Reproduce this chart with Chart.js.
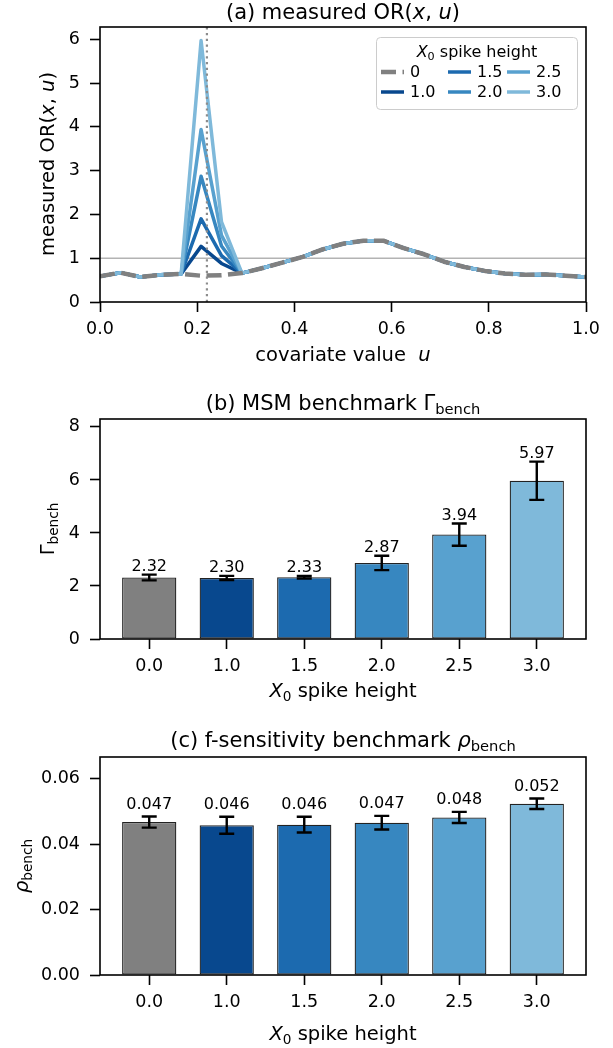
<!DOCTYPE html>
<html>
<head>
<meta charset="utf-8">
<script src="https://cdn.jsdelivr.net/npm/chart.js@4"></script>
<style>
html, body { margin: 0; padding: 0; background: #fff; }
#wrap { position: relative; width: 613px; height: 1048px; }
.panel { position: absolute; left: 0; width: 613px; }
</style>
</head>
<body>
<div id="wrap">
  <div class="panel" style="top:0;height:370px"><canvas id="pa"></canvas></div>
  <div class="panel" style="top:370px;height:345px"><canvas id="pb"></canvas></div>
  <div class="panel" style="top:715px;height:333px"><canvas id="pc"></canvas></div>
</div>
<script>
// panel (a): measured OR(x, u) on the covariate grid
const u = [0.000, 0.042, 0.083, 0.125, 0.167, 0.208, 0.250, 0.292, 0.333, 0.375, 0.417, 0.458, 0.500,
           0.542, 0.583, 0.625, 0.667, 0.708, 0.750, 0.792, 0.833, 0.875, 0.917, 0.958, 1.000];
const or00 = [0.59, 0.67, 0.57, 0.62, 0.64, 0.60, 0.61, 0.66, 0.77, 0.90, 1.03, 1.20, 1.33,
              1.40, 1.40, 1.23, 1.09, 0.92, 0.80, 0.71, 0.65, 0.62, 0.63, 0.60, 0.57];
const or10 = [0.59, 0.67, 0.57, 0.62, 0.64, 1.27, 0.88, 0.66, 0.77, 0.90, 1.03, 1.20, 1.33,
              1.40, 1.40, 1.23, 1.09, 0.92, 0.80, 0.71, 0.65, 0.62, 0.63, 0.60, 0.57];
const or15 = [0.59, 0.67, 0.57, 0.62, 0.64, 1.90, 1.06, 0.66, 0.77, 0.90, 1.03, 1.20, 1.33,
              1.40, 1.40, 1.23, 1.09, 0.92, 0.80, 0.71, 0.65, 0.62, 0.63, 0.60, 0.57];
const or20 = [0.59, 0.67, 0.57, 0.62, 0.64, 2.87, 1.28, 0.66, 0.77, 0.90, 1.03, 1.20, 1.33,
              1.40, 1.40, 1.23, 1.09, 0.92, 0.80, 0.71, 0.65, 0.62, 0.63, 0.60, 0.57];
const or25 = [0.59, 0.67, 0.57, 0.62, 0.64, 3.94, 1.52, 0.66, 0.77, 0.90, 1.03, 1.20, 1.33,
              1.40, 1.40, 1.23, 1.09, 0.92, 0.80, 0.71, 0.65, 0.62, 0.63, 0.60, 0.57];
const or30 = [0.59, 0.67, 0.57, 0.62, 0.64, 5.97, 1.83, 0.66, 0.77, 0.90, 1.03, 1.20, 1.33,
              1.40, 1.40, 1.23, 1.09, 0.92, 0.80, 0.71, 0.65, 0.62, 0.63, 0.60, 0.57];
const refLevel = 1;
const spikeU = 0.22;

// panels (b) and (c): benchmarks per spike height
const heights = ['0.0', '1.0', '1.5', '2.0', '2.5', '3.0'];
const legendLabels = ['0', '1.0', '1.5', '2.0', '2.5', '3.0'];
const gammaBench = [2.32, 2.30, 2.33, 2.87, 3.94, 5.97];
const gammaErr = [0.11, 0.08, 0.05, 0.27, 0.42, 0.72];
const rhoBench = [0.0468, 0.0458, 0.0460, 0.0466, 0.0482, 0.0524];
const rhoErr = [0.0017, 0.0026, 0.0024, 0.0021, 0.0017, 0.0016];

const colors = ['#808080', '#08488e', '#1c6aaf', '#3787c0', '#58a1cf', '#7fb9da'];

const FAM = '"DejaVu Sans", sans-serif';
Chart.defaults.font.family = FAM;
Chart.defaults.color = '#000';
const tickFont = { size: 17.5 };

function fontOf(p, size) {
    return (p.i ? 'italic ' : '') + (p.sub ? size * 0.7 : size) + 'px ' + FAM;
}

// text with italic / subscript parts, centred on (x, y)
function drawRich(ctx, parts, x, y, size, rot) {
    ctx.save();
    ctx.translate(x, y);
    if (rot) ctx.rotate(rot);
    let total = 0;
    parts.forEach(p => { ctx.font = fontOf(p, size); total += ctx.measureText(p.t).width; });
    let cx = -total / 2;
    ctx.textAlign = 'left';
    ctx.textBaseline = 'alphabetic';
    ctx.fillStyle = '#000';
    parts.forEach(p => {
        ctx.font = fontOf(p, size);
        ctx.fillText(p.t, cx, size * 0.36 + (p.sub ? size * 0.2 : 0));
        cx += ctx.measureText(p.t).width;
    });
    ctx.restore();
}

function labelsPlugin(items) {
    return {
        id: 'labels',
        afterDraw(chart) {
            const ctx = chart.ctx;
            const a = chart.chartArea;
            ctx.save();
            ctx.strokeStyle = '#000';
            ctx.lineWidth = 1.6;
            ctx.strokeRect(a.left, a.top, a.right - a.left, a.bottom - a.top);
            ctx.restore();
            items.forEach(it => drawRich(ctx, it.parts, it.x, it.y, it.size, it.rot));
        }
    };
}

function errPlugin(vals, errs, fmt, gap) {
    return {
        id: 'errbars',
        afterDatasetsDraw(chart) {
            const ctx = chart.ctx, xs = chart.scales.x, ys = chart.scales.y;
            ctx.save();
            ctx.strokeStyle = '#000';
            ctx.lineWidth = 2.4;
            vals.forEach((v, i) => {
                const x = xs.getPixelForValue(i);
                const hi = ys.getPixelForValue(v + errs[i]);
                const lo = ys.getPixelForValue(v - errs[i]);
                ctx.beginPath();
                ctx.moveTo(x, hi); ctx.lineTo(x, lo);
                ctx.moveTo(x - 7.5, hi); ctx.lineTo(x + 7.5, hi);
                ctx.moveTo(x - 7.5, lo); ctx.lineTo(x + 7.5, lo);
                ctx.stroke();
                ctx.font = '16px ' + FAM;
                ctx.textAlign = 'center';
                ctx.textBaseline = 'bottom';
                ctx.fillStyle = '#000';
                ctx.fillText(fmt(v), x, hi - gap);
            });
            ctx.restore();
        }
    };
}

const legendPlugin = {
    id: 'boxlegend',
    afterDraw(chart) {
        const ctx = chart.ctx;
        ctx.save();
        ctx.fillStyle = 'rgba(255,255,255,0.8)';
        ctx.strokeStyle = '#cccccc';
        ctx.lineWidth = 1;
        ctx.beginPath();
        ctx.roundRect(376.5, 37.5, 201, 72, 4);
        ctx.fill();
        ctx.stroke();
        ctx.restore();
        drawRich(ctx, [{ t: 'X', i: true }, { t: '0', sub: true }, { t: ' spike height' }], 477, 51, 16);
        const colX = [381, 448, 507];
        const rowY = [72, 92];
        legendLabels.forEach((lab, k) => {
            const col = Math.floor(k / 2), row = k % 2;
            const ds = chart.data.datasets[k];
            const x0 = colX[col], y0 = rowY[row];
            ctx.save();
            ctx.strokeStyle = ds.borderColor;
            ctx.lineWidth = ds.borderWidth;
            ctx.setLineDash(ds.borderDash || []);
            ctx.beginPath();
            ctx.moveTo(x0, y0); ctx.lineTo(x0 + 23, y0);
            ctx.stroke();
            ctx.restore();
            ctx.save();
            ctx.font = '16px ' + FAM;
            ctx.fillStyle = '#000';
            ctx.textBaseline = 'middle';
            ctx.fillText(lab, x0 + 29, y0 + 1);
            ctx.restore();
        });
    }
};

function gridOpts() {
    return { drawOnChartArea: false, tickLength: 10, tickWidth: 1.6, tickColor: '#000' };
}

const orSeries = [or00, or10, or15, or20, or25, or30];
const lineSets = orSeries.map((vals, k) => ({
    label: legendLabels[k],
    data: u.map((x, i) => ({ x: x, y: vals[i] })),
    borderColor: colors[k],
    borderWidth: k === 0 ? 4.5 : 3.5,
    borderDash: k === 0 ? [15, 6.5] : [],
    borderJoinStyle: 'round',
    order: k === 0 ? 0 : 6 - k,
    pointRadius: 0,
    tension: 0
}));
lineSets.push({
    label: 'ref', data: [{ x: 0, y: refLevel }, { x: 1, y: refLevel }],
    borderColor: '#b3b3b3', borderWidth: 1.5, pointRadius: 0, order: 10
});
lineSets.push({
    label: 'spike', data: [{ x: spikeU, y: 0 }, { x: spikeU, y: 6.28 }],
    borderColor: '#8c8c8c', borderWidth: 2.2, borderDash: [2.2, 3.6], pointRadius: 0, order: -1
});

new Chart(document.getElementById('pa'), {
    type: 'line',
    data: { datasets: lineSets },
    options: {
        responsive: true, maintainAspectRatio: false, animation: false,
        layout: { padding: { left: 0, right: 27, top: 27, bottom: 0 } },
        plugins: { legend: { display: false }, tooltip: { enabled: false } },
        scales: {
            x: {
                type: 'linear', min: 0, max: 1,
                afterFit: s => { s.height = 68; },
                ticks: { stepSize: 0.2, callback: v => v.toFixed(1), font: tickFont, color: '#000', padding: 7, maxRotation: 0, autoSkip: false },
                grid: gridOpts(), border: { display: false }
            },
            y: {
                min: 0, max: 6.28,
                afterFit: s => { s.width = 100; },
                ticks: { stepSize: 1, includeBounds: false, font: tickFont, color: '#000', padding: 10 },
                grid: gridOpts(), border: { display: false }
            }
        }
    },
    plugins: [labelsPlugin([
        { parts: [{ t: '(a) measured OR(' }, { t: 'x', i: true }, { t: ', ' }, { t: 'u', i: true }, { t: ')' }], x: 343, y: 11, size: 21 },
        { parts: [{ t: 'measured OR(' }, { t: 'x', i: true }, { t: ', ' }, { t: 'u', i: true }, { t: ')' }], x: 47, y: 164, size: 19.5, rot: -Math.PI / 2 },
        { parts: [{ t: 'covariate value  ' }, { t: 'u', i: true }], x: 343, y: 354, size: 19.5 }
    ]), legendPlugin]
});

function barChart(id, vals, errs, ymax, step, tickFmt, valFmt, gap, topPad, xH, items) {
    new Chart(document.getElementById(id), {
        type: 'bar',
        data: {
            datasets: [{
                data: heights.map((h, i) => ({ x: i, y: vals[i] })),
                backgroundColor: colors,
                borderColor: '#222222',
                borderWidth: 1.3,
                borderSkipped: false,
                barPercentage: 0.7,
                categoryPercentage: 1
            }]
        },
        options: {
            responsive: true, maintainAspectRatio: false, animation: false,
            layout: { padding: { left: 0, right: 27, top: topPad, bottom: 0 } },
            plugins: { legend: { display: false }, tooltip: { enabled: false } },
            scales: {
                x: {
                    type: 'linear', min: -0.635, max: 5.635, offset: false,
                    afterBuildTicks: s => { s.ticks = heights.map((h, i) => ({ value: i })); },
                    afterFit: s => { s.height = xH; },
                    ticks: { callback: v => heights[v], font: tickFont, color: '#000', padding: 7, maxRotation: 0, autoSkip: false },
                    grid: Object.assign(gridOpts(), { offset: false }), border: { display: false }
                },
                y: {
                    min: 0, max: ymax,
                    afterFit: s => { s.width = 100; },
                    ticks: { stepSize: step, includeBounds: false, callback: tickFmt, font: tickFont, color: '#000', padding: 10 },
                    grid: gridOpts(), border: { display: false }
                }
            }
        },
        plugins: [errPlugin(vals, errs, valFmt, gap), labelsPlugin(items)]
    });
}

const xLab = [{ t: 'X', i: true }, { t: '0', sub: true }, { t: ' spike height' }];

barChart('pb', gammaBench, gammaErr, 8.3, 2, v => String(v), v => v.toFixed(2), 0, 49, 76, [
    { parts: [{ t: '(b) MSM benchmark Γ' }, { t: 'bench', sub: true }], x: 343, y: 32, size: 21 },
    { parts: [{ t: 'Γ' }, { t: 'bench', sub: true }], x: 47, y: 159, size: 19.5, rot: -Math.PI / 2 },
    { parts: xLab, x: 343, y: 320, size: 19.5 }
]);

barChart('pc', rhoBench, rhoErr, 0.0667, 0.02, v => v.toFixed(2), v => v.toFixed(3), 4, 42, 73, [
    { parts: [{ t: '(c) f-sensitivity benchmark ' }, { t: 'ρ', i: true }, { t: 'bench', sub: true }], x: 343, y: 24, size: 21 },
    { parts: [{ t: 'ρ', i: true }, { t: 'bench', sub: true }], x: 21, y: 151, size: 19.5, rot: -Math.PI / 2 },
    { parts: xLab, x: 343, y: 318, size: 19.5 }
]);
</script>
</body>
</html>
